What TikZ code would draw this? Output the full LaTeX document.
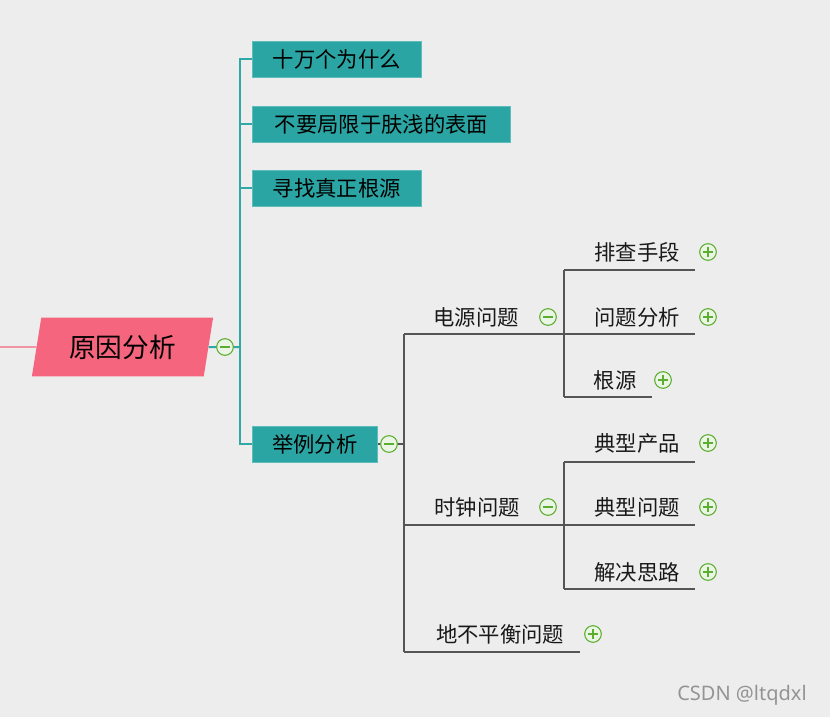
\documentclass[tikz,border=0pt]{standalone}
\usepackage{fontspec}
\setmainfont{Noto Sans CJK SC}
\newfontfamily\markfont{Noto Sans}
\usepackage{xcolor}
\usetikzlibrary{positioning,calc,shapes.geometric}

\definecolor{bggray}{HTML}{EDEDED}
\definecolor{rootpink}{HTML}{F5657E}
\definecolor{tealbox}{HTML}{2BA5A3}
\definecolor{tealedge}{HTML}{5CBDBB}
\definecolor{tealline}{HTML}{2FA8A6}
\definecolor{darkline}{HTML}{555555}
\definecolor{signgreen}{HTML}{5BAE2E}

\begin{document}
\begin{tikzpicture}[x=0.75pt, y=-0.75pt,
  root/.style={trapezium, trapezium left angle=76, trapezium right angle=104, trapezium stretches=true, fill=rootpink, minimum width=136pt, minimum height=44pt, inner sep=0pt, font=\fontsize{20}{22}\selectfont},
  topic/.style={rectangle, fill=tealbox, draw=tealedge, line width=0.6pt, minimum height=27pt, inner sep=0pt, anchor=west, font=\fontsize{16}{18}\selectfont},
  leaf/.style={inner sep=0pt, text=black!90, font=\fontsize{16}{18}\selectfont},
  tealwire/.style={draw=tealline, line width=1.5pt},
  graywire/.style={draw=darkline, line width=1.5pt},
  sign/.style={circle, draw=signgreen, line width=0.8pt, fill=white!88!signgreen, minimum size=12.5pt, inner sep=0pt},
  minussign/.style={sign, path picture={\draw[signgreen, line width=1pt] ([xshift=2.3pt]path picture bounding box.west) -- ([xshift=-2.3pt]path picture bounding box.east);}},
  plussign/.style={sign, path picture={\draw[signgreen, line width=1pt] ([xshift=2.3pt]path picture bounding box.west) -- ([xshift=-2.3pt]path picture bounding box.east) ([yshift=-2.3pt]path picture bounding box.north) -- ([yshift=2.3pt]path picture bounding box.south);}}]

\fill[bggray] (0,0) rectangle (830,717);
\useasboundingbox (0,0) rectangle (830,717);

% main topic
\coordinate (lead) at (0,347);
\node[root] (cause) at (122.5,347) {原因分析};
\draw[draw=rootpink, line width=1pt] (lead) -- (cause.west);

% teal branch
\node[topic, minimum width=126.75pt] (why) at (252,59) {十万个为什么};
\node[topic, minimum width=193.5pt] (deep) at (252,124) {不要局限于肤浅的表面};
\node[topic, minimum width=126.75pt] (src) at (252,188) {寻找真正根源};
\node[topic, minimum width=93.75pt] (case) at (252,444) {举例分析};

\coordinate (tk) at (240,347);
\draw[tealwire] (cause.east) -- (tk);
\draw[tealwire] (why.west) -| (tk) |- (case.west);
\draw[tealwire] (deep.west) -- (deep.west -| tk);
\draw[tealwire] (src.west) -- (src.west -| tk);

% gray branch
\node[leaf] (power) at (476,317) {电源问题};
\node[leaf] (tools) at (637,252) {排查手段};
\node[leaf] (anal) at (637,317) {问题分析};
\node[leaf] (root) at (615,380) {根源};
\node[leaf] (clock) at (477,507) {时钟问题};
\node[leaf] (prod) at (637,443) {典型产品};
\node[leaf] (issue) at (637,507) {典型问题};
\node[leaf] (idea) at (637,572) {解决思路};
\node[leaf] (ground) at (500,634) {地不平衡问题};

\coordinate (gk) at (404,444);
\coordinate (g1) at (404,334);
\coordinate (g2) at (404,525);
\coordinate (g3) at (404,652);
\coordinate (pj) at (564,334);
\coordinate (pt) at (564,270);
\coordinate (pb) at (564,397);
\coordinate (cj) at (564,525);
\coordinate (ct) at (564,462);
\coordinate (cb) at (564,589);

\draw[graywire] (case.east) -- (gk);
\draw[graywire] (g1) -- (g3);
\draw[graywire] (g1) -- (pj) -- ++(131,0);
\draw[graywire] (pt) -- (pb);
\draw[graywire] (pt) -- ++(131,0);
\draw[graywire] (pb) -- ++(88,0);
\draw[graywire] (g2) -- (cj) -- ++(131,0);
\draw[graywire] (ct) -- (cb);
\draw[graywire] (ct) -- ++(131,0);
\draw[graywire] (cb) -- ++(131,0);
\draw[graywire] (g3) -- ++(176,0);

% collapse / expand marks
\node[minussign] (m0) at (225,347) {};
\node[minussign] (m1) at (389,444) {};
\node[minussign] (m2) at (548,317) {};
\node[minussign] (m3) at (548,507) {};
\node[plussign] (p1) at (708,252) {};
\node[plussign] (p2) at (708,317) {};
\node[plussign] (p3) at (663,380) {};
\node[plussign] (p4) at (708,443) {};
\node[plussign] (p5) at (708,507) {};
\node[plussign] (p6) at (708,572) {};
\node[plussign] (p7) at (593,634) {};

\node[text=black!42, font=\markfont\fontsize{15}{17}\selectfont] (mark) at (742,695) {CSDN @ltqdxl};
\end{tikzpicture}
\end{document}
